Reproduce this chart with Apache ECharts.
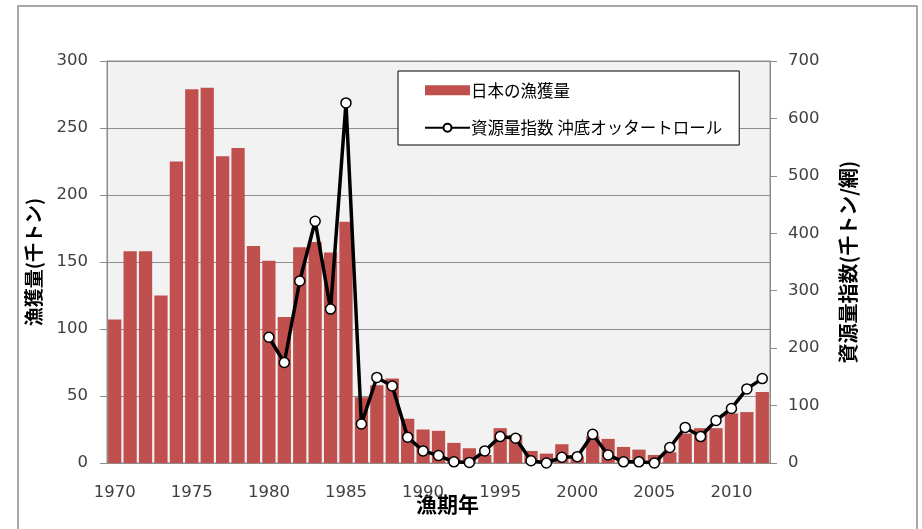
<!DOCTYPE html>
<html>
<head>
<meta charset="utf-8">
<script src="https://cdn.jsdelivr.net/npm/echarts@6/dist/echarts.min.js"></script>
<style>
  html, body { margin: 0; padding: 0; background: #fff; }
  #chart { width: 922px; height: 529px; }
</style>
</head>
<body>
<div id="chart"></div>
<script>
// 漁期年 1970-2012
const years = []
for (let y = 1970; y <= 2012; y++) years.push(String(y))

// 日本の漁獲量 (千トン)
const catchJapan = [
  107, 158, 158, 125, 225, 279, 280, 229, 235, 162,
  151, 109, 161, 165, 157, 180, 49, 58, 63, 33,
  25, 24, 15, 11, 6, 26, 21, 9, 7, 14,
  5, 20, 18, 12, 10, 6, 8, 22, 26, 26,
  37, 38, 53
]

// 資源量指数 沖底オッタートロール (千トン/網), from 1980
const stockIndex = [
  null, null, null, null, null, null, null, null, null, null,
  219, 175, 317, 421, 268, 627, 68, 149, 134, 45,
  21, 13, 2, 1, 21, 46, 43, 4, 0, 10,
  11, 50, 14, 2, 2, 0, 27, 62, 46, 74,
  95, 129, 147
]

const leftTicks = { min: 0, max: 300, interval: 50 }
const rightTicks = { min: 0, max: 700, interval: 100 }

const jpFont = '"Noto Sans CJK JP", "DejaVu Sans", sans-serif'
const numFont = '"DejaVu Sans", sans-serif'

const chart = echarts.init(document.getElementById('chart'))

const option = {
  animation: false,
  backgroundColor: '#fff',
  graphic: [
    {
      type: 'rect',
      shape: { x: 18, y: 6, width: 899, height: 540 },
      style: { fill: 'none', stroke: '#8c8c8c', lineWidth: 1.5 },
      silent: true
    },
    {
      type: 'text',
      left: 416,
      top: 494,
      style: { text: '漁期年', font: 'bold 21px ' + jpFont, fill: '#000' }
    }
  ],
  grid: {
    left: 107,
    right: 152,
    top: 61,
    bottom: 66,
    show: true,
    backgroundColor: '#f2f2f2',
    borderColor: '#8c8c8c',
    borderWidth: 1
  },
  legend: {
    left: 398,
    top: 71,
    orient: 'vertical',
    backgroundColor: '#fff',
    borderColor: '#000',
    borderWidth: 1,
    padding: [11, 17, 9, 26],
    itemGap: 21,
    itemWidth: 45,
    itemHeight: 10,
    textStyle: { fontFamily: jpFont, fontSize: 16.5, color: '#000', padding: [0, 0, 0, -4] },
    data: [
      { name: '日本の漁獲量', icon: 'rect' },
      { name: '資源量指数 沖底オッタートロール' }
    ]
  },
  xAxis: {
    type: 'category',
    data: years,
    boundaryGap: true,
    axisLine: { lineStyle: { color: '#8c8c8c' } },
    axisTick: { show: false },
    axisLabel: {
      interval: 4,
      margin: 21,
      fontFamily: numFont,
      fontSize: 16.5,
      color: '#404040'
    }
  },
  yAxis: [
    {
      type: 'value',
      min: leftTicks.min,
      max: leftTicks.max,
      interval: leftTicks.interval,
      name: '漁獲量(千トン)',
      nameLocation: 'middle',
      nameGap: 64,
      nameRotate: 90,
      nameTextStyle: { fontFamily: jpFont, fontSize: 19, fontWeight: 'bold', color: '#000' },
      axisLine: { show: true, lineStyle: { color: '#8c8c8c' } },
      axisTick: { show: true, length: 7, lineStyle: { color: '#8c8c8c' } },
      axisLabel: { margin: 19, fontFamily: numFont, fontSize: 16.5, color: '#404040' },
      splitLine: { show: true, lineStyle: { color: '#8c8c8c', width: 1 } }
    },
    {
      type: 'value',
      min: rightTicks.min,
      max: rightTicks.max,
      interval: rightTicks.interval,
      position: 'right',
      name: '資源量指数(千トン/網)',
      nameLocation: 'middle',
      nameGap: 68,
      nameRotate: 90,
      nameTextStyle: { fontFamily: jpFont, fontSize: 20, fontWeight: 'bold', color: '#000' },
      axisLine: { show: true, lineStyle: { color: '#8c8c8c' } },
      axisTick: { show: true, length: 7, lineStyle: { color: '#8c8c8c' } },
      axisLabel: { margin: 18, fontFamily: numFont, fontSize: 16.5, color: '#404040' },
      splitLine: { show: false }
    }
  ],
  series: [
    {
      name: '日本の漁獲量',
      type: 'bar',
      yAxisIndex: 0,
      data: catchJapan,
      barCategoryGap: '14%',
      itemStyle: { color: '#c0504d' }
    },
    {
      name: '資源量指数 沖底オッタートロール',
      type: 'line',
      yAxisIndex: 1,
      data: stockIndex,
      connectNulls: false,
      symbol: 'circle',
      symbolSize: 10,
      showAllSymbol: true,
      lineStyle: { color: '#000', width: 3.5 },
      itemStyle: { color: '#fff', borderColor: '#000', borderWidth: 1.5 },
      z: 3
    }
  ]
}

chart.setOption(option)
</script>
</body>
</html>
